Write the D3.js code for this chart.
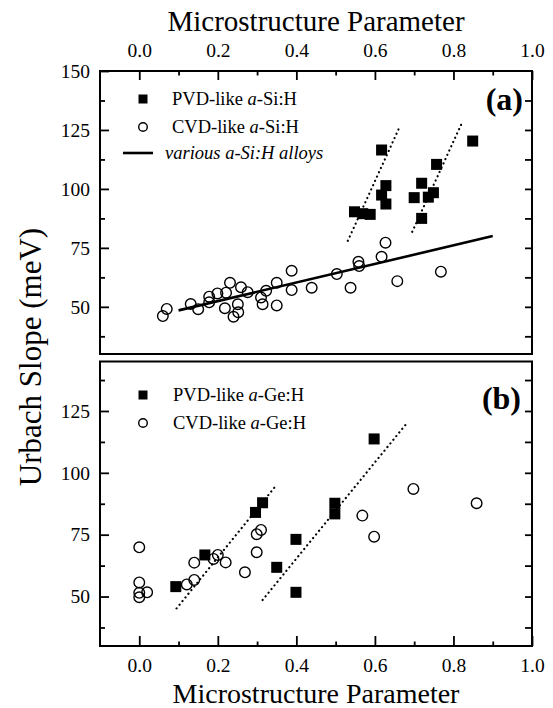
<!DOCTYPE html>
<html><head><meta charset="utf-8">
<script src="https://cdn.jsdelivr.net/npm/d3@7"></script>
<style>
body{margin:0;background:#fff}
svg{display:block}
text{font-family:"Liberation Serif","Times New Roman",serif;fill:#000}
.tick text{font-family:"Liberation Serif","Times New Roman",serif !important}
</style>
</head><body><svg id="c" width="553" height="708"></svg>
<script>
// ---------- data ----------
const xTickValues = [0, 0.2, 0.4, 0.6, 0.8, 1.0];
const xMinorValues = [0.1, 0.3, 0.5, 0.7, 0.9];
const yTicksA = [50, 75, 100, 125, 150];
const yTicksB = [50, 75, 100, 125];
const yMinor = [37.5, 62.5, 87.5, 112.5, 137.5];

// panel (a): a-Si:H
const siPvd = [[0.617,116.5],[0.628,101.4],[0.617,97.4],[0.628,93.6],[0.548,90.3],[0.569,89.5],[0.588,89.2],
  [0.719,102.4],[0.700,96.3],[0.749,98.4],[0.736,96.5],[0.757,110.4],[0.719,87.5],[0.849,120.3]];
const siCvd = [[0.070,49.1],[0.060,46.1],[0.131,51.2],[0.150,49.0],[0.178,54.3],[0.178,51.9],[0.199,55.7],
  [0.221,56.0],[0.231,60.2],[0.218,49.4],[0.251,51.1],[0.252,47.7],[0.240,45.8],[0.259,58.3],[0.276,56.2],
  [0.323,56.8],[0.310,54.0],[0.314,51.1],[0.350,60.2],[0.350,50.6],[0.388,65.3],[0.388,57.1],[0.439,58.1],
  [0.503,63.9],[0.538,58.1],[0.558,69.1],[0.560,67.3],[0.617,71.2],[0.627,77.2],[0.657,60.9],[0.768,64.9]];
const siAlloy = [[0.10,48.5],[0.90,80.0]];
const siFitA = [[0.531,78.0],[0.664,126.7]];
const siFitB = [[0.695,81.8],[0.821,127.8]];

// panel (b): a-Ge:H
const gePvd = [[0.093,54.0],[0.167,66.8],[0.296,84.0],[0.314,87.9],[0.399,73.1],[0.350,61.8],[0.399,51.7],
  [0.498,87.7],[0.498,83.4],[0.598,113.7]];
const geCvd = [[0.0,69.9],[0.0,55.7],[0.0,51.5],[0.0,49.7],[0.02,51.7],[0.121,54.9],[0.140,56.7],[0.140,63.7],
  [0.189,65.2],[0.200,66.8],[0.220,63.8],[0.269,59.8],[0.299,67.9],[0.299,75.2],[0.310,76.9],
  [0.568,82.7],[0.598,74.2],[0.698,93.5],[0.859,87.7]];
const geFitA = [[0.095,45.2],[0.348,94.8]];
const geFitB = [[0.314,48.6],[0.679,119.6]];

// ---------- layout ----------
const svg = d3.select("#c");
const L = 100, R = 532;
const x = d3.scaleLinear([-0.1, 1.0], [L, R]);
const yA = d3.scaleLinear([30, 150], [354, 71]);
const yB = d3.scaleLinear([30, 145], [646, 361.5]);
const FS = 19.5, LFS = 18.5;

function panel(y, ticks, top, bottom) {
  const g = svg.append("g");
  g.append("g").attr("transform", `translate(${L},0)`)
    .call(d3.axisLeft(y).tickValues(ticks).tickSize(-9).tickPadding(10).tickFormat(d3.format("d")));
  g.append("g").attr("transform", `translate(${L},0)`)
    .call(d3.axisLeft(y).tickValues(yMinor.filter(v => v >= y.domain()[0] && v <= y.domain()[1])).tickSize(-5).tickFormat(""));
  g.append("g").attr("transform", `translate(${R},0)`)
    .call(d3.axisRight(y).tickValues(ticks.concat(yMinor).filter(v => v > y.domain()[0] && v < y.domain()[1])).tickSize(-7).tickFormat(""));
  if (top) {
    g.append("g").attr("transform", `translate(0,${y.range()[1]})`)
      .call(d3.axisTop(x).tickValues(xTickValues).tickSize(-9).tickPadding(14).tickFormat(d3.format(".1f")));
    g.append("g").attr("transform", `translate(0,${y.range()[1]})`)
      .call(d3.axisTop(x).tickValues(xMinorValues).tickSize(-4.5).tickFormat(""));
  }
  if (bottom) {
    g.append("g").attr("transform", `translate(0,${y.range()[0]})`)
      .call(d3.axisBottom(x).tickValues(xTickValues).tickSize(-10).tickPadding(12).tickFormat(d3.format(".1f")));
    g.append("g").attr("transform", `translate(0,${y.range()[0]})`)
      .call(d3.axisBottom(x).tickValues(xMinorValues).tickSize(-4.5).tickFormat(""));
  }
  g.selectAll(".domain").remove();
  g.selectAll("g").attr("font-family", null);
  g.selectAll(".tick line").attr("stroke", "#000").attr("stroke-width", 1.8);
  g.selectAll(".tick text").style("font-size", FS + "px").attr("fill", "#000");
  g.append("rect").attr("x", L).attr("y", y.range()[1]).attr("width", R - L)
    .attr("height", y.range()[0] - y.range()[1]).attr("fill", "none").attr("stroke", "#000").attr("stroke-width", 2);
  return g;
}

const gA = panel(yA, yTicksA, true, false);
const gB = panel(yB, yTicksB, false, true);

function fitLine(g, y, pts, dotted) {
  const line = d3.line().x(d => x(d[0])).y(d => y(d[1]));
  const p = g.append("path").attr("d", line(pts)).attr("fill", "none").attr("stroke", "#000");
  if (dotted) p.attr("stroke-width", 2.2).attr("stroke-dasharray", "0.1,4.6").attr("stroke-linecap", "round");
  else p.attr("stroke-width", 2.6);
}
function squares(g, y, pts, s) {
  g.append("g").selectAll("rect").data(pts).join("rect")
    .attr("x", d => x(d[0]) - s / 2).attr("y", d => y(d[1]) - s / 2)
    .attr("width", s).attr("height", s).attr("fill", "#000");
}
function circles(g, y, pts, r) {
  g.append("g").selectAll("circle").data(pts).join("circle")
    .attr("cx", d => x(d[0])).attr("cy", d => y(d[1])).attr("r", r)
    .attr("fill", "none").attr("stroke", "#000").attr("stroke-width", 1.4);
}

fitLine(gA, yA, siAlloy, false);
fitLine(gA, yA, siFitA, true);
fitLine(gA, yA, siFitB, true);
circles(gA, yA, siCvd, 5.3);
squares(gA, yA, siPvd, 11);

fitLine(gB, yB, geFitA, true);
fitLine(gB, yB, geFitB, true);
circles(gB, yB, geCvd, 5.3);
squares(gB, yB, gePvd, 11);

// legends
function legText(tx, ty, parts, italicAll) {
  const t = svg.append("text").attr("x", tx).attr("y", ty).style("font-size", LFS + "px");
  if (italicAll) t.style("font-style", "italic");
  parts.forEach(p => {
    const s = t.append("tspan").text(p[0]);
    if (p[1]) s.style("font-style", "italic");
  });
}
svg.append("rect").attr("x", 138.5).attr("y", 94.5).attr("width", 9).attr("height", 9).attr("fill", "#000");
legText(172, 105, [["PVD-like "], ["a", 1], ["-Si:H"]]);
svg.append("circle").attr("cx", 143).attr("cy", 127).attr("r", 4.3).attr("fill", "none").attr("stroke", "#000").attr("stroke-width", 1.4);
legText(172, 133, [["CVD-like "], ["a", 1], ["-Si:H"]]);
svg.append("line").attr("x1", 123).attr("x2", 153).attr("y1", 153).attr("y2", 153).attr("stroke", "#000").attr("stroke-width", 2.6);
legText(165, 159, [["various a-Si:H alloys"]], true);

svg.append("rect").attr("x", 138.5).attr("y", 390.5).attr("width", 9).attr("height", 9).attr("fill", "#000");
legText(173, 401, [["PVD-like "], ["a", 1], ["-Ge:H"]]);
svg.append("circle").attr("cx", 143).attr("cy", 423).attr("r", 4.3).attr("fill", "none").attr("stroke", "#000").attr("stroke-width", 1.4);
legText(173, 429, [["CVD-like "], ["a", 1], ["-Ge:H"]]);

svg.append("text").attr("x", 523).attr("y", 110).attr("text-anchor", "end")
  .style("font-size", "32px").style("font-weight", "bold").text("(a)");
svg.append("text").attr("x", 521).attr("y", 409).attr("text-anchor", "end")
  .style("font-size", "32px").style("font-weight", "bold").text("(b)");

// axis titles
svg.append("text").attr("x", (L + R) / 2).attr("y", 31).attr("text-anchor", "middle")
  .style("font-size", "29px").text("Microstructure Parameter");
svg.append("text").attr("x", (L + R) / 2).attr("y", 703).attr("text-anchor", "middle")
  .style("font-size", "28px").text("Microstructure Parameter");
svg.append("text").attr("transform", "translate(41,357) rotate(-90)").attr("text-anchor", "middle")
  .style("font-size", "31px").text("Urbach Slope (meV)");
</script>
</body></html>
